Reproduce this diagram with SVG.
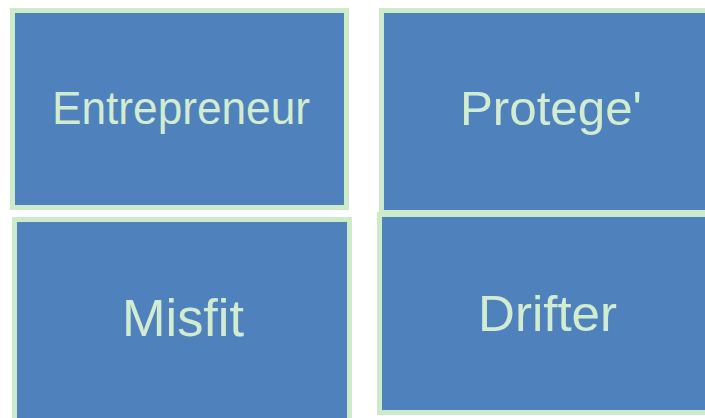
<svg xmlns="http://www.w3.org/2000/svg" width="705" height="418" viewBox="0 0 705 418">
<style>
.box{fill:#4f81bd;stroke:#cdeacb;stroke-width:5}
.lbl{font-family:"Liberation Sans",Arial,sans-serif;fill:#d2ecd0;text-anchor:middle}
</style>
<rect width="705" height="418" fill="#ffffff"/>
<g id="node-entrepreneur">
<rect class="box" x="12.5" y="10.5" width="334" height="197"/>
<text class="lbl" x="181" y="124" font-size="46" textLength="258" lengthAdjust="spacingAndGlyphs">Entrepreneur</text>
</g>
<g id="node-protege">
<rect class="box" x="381.5" y="10.5" width="340" height="202"/>
<text class="lbl" x="551" y="125" font-size="48" textLength="182" lengthAdjust="spacingAndGlyphs">Protege'</text>
</g>
<g id="node-misfit">
<rect class="box" x="14.5" y="219.5" width="335" height="210"/>
<text class="lbl" x="183" y="336" font-size="51" textLength="122" lengthAdjust="spacingAndGlyphs">Misfit</text>
</g>
<g id="node-drifter">
<rect class="box" x="379.5" y="214.5" width="340" height="198"/>
<text class="lbl" x="547.5" y="331" font-size="50" textLength="139" lengthAdjust="spacingAndGlyphs">Drifter</text>
</g>
<g id="connectors"/>
</svg>
